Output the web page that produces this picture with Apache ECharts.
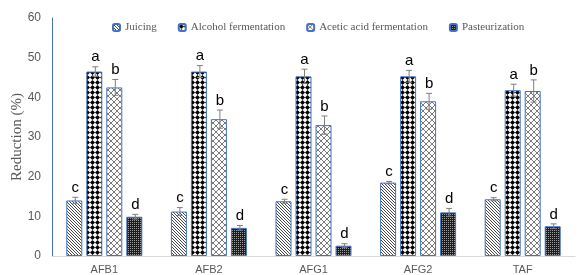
<!DOCTYPE html>
<html lang="en">
<head>
    <meta charset="UTF-8">
    <title>Reduction chart</title>
    <style>
        html, body { margin: 0; padding: 0; background: #fff; }
        #container { width: 583px; height: 275px; }
    </style>
</head>
<body>
    <div id="container"></div>
    <script src="https://cdn.jsdelivr.net/npm/echarts@6/dist/echarts.min.js"></script>
    <script>
        var categories = ['AFB1', 'AFB2', 'AFG1', 'AFG2', 'TAF'];
        var seriesNames = ['Juicing', 'Alcohol fermentation', 'Acetic acid fermentation', 'Pasteurization'];

        var juicing = [14.0, 11.2, 13.8, 18.5, 14.3];
        var alcohol = [46.5, 46.5, 45.3, 45.3, 41.8];
        var acetic = [42.5, 34.5, 33.0, 39.0, 41.6];
        var pasteur = [9.9, 7.1, 2.6, 11.0, 7.5];

        var juicingErr = [0.8, 1.0, 0.5, 0.3, 0.4];
        var alcoholErr = [1.2, 1.5, 1.8, 1.5, 1.5];
        var aceticErr = [2.0, 2.3, 2.3, 2.0, 2.8];
        var pasteurErr = [0.6, 0.6, 0.5, 1.0, 0.6];

        var letters = ['c', 'a', 'b', 'd'];

        var yTicks = [0, 10, 20, 30, 40, 50, 60];

        // little canvas tiles for the hatch fills
        function makeTile(w, h, draw) {
            var c = document.createElement('canvas');
            c.width = w;
            c.height = h;
            var ctx = c.getContext('2d');
            ctx.fillStyle = '#fff';
            ctx.fillRect(0, 0, w, h);
            draw(ctx);
            return { image: c, repeat: 'repeat' };
        }

        var stripeFill = makeTile(3, 3, function(ctx) {
            ctx.fillStyle = '#4a4a4a';
            for (var i = 0; i < 3; i++) ctx.fillRect(i, i, 1, 1);
        });
        var diamondFill = makeTile(5, 5, function(ctx) {
            ctx.fillStyle = '#000';
            ctx.beginPath();
            ctx.moveTo(2.5, 0);
            ctx.lineTo(5, 2.5);
            ctx.lineTo(2.5, 5);
            ctx.lineTo(0, 2.5);
            ctx.closePath();
            ctx.fill();
        });
        var crossFill = makeTile(6, 6, function(ctx) {
            ctx.strokeStyle = '#7a7a7a';
            ctx.lineWidth = 1;
            ctx.beginPath();
            ctx.moveTo(0, 0); ctx.lineTo(6, 6);
            ctx.moveTo(6, 0); ctx.lineTo(0, 6);
            ctx.stroke();
        });
        var dotFill = makeTile(2, 2, function(ctx) {
            ctx.fillStyle = '#1e1e1e';
            ctx.fillRect(0, 0, 2, 2);
            ctx.fillStyle = '#9a9a9a';
            ctx.fillRect(0, 0, 1, 1);
        });

        var fills = [stripeFill, diamondFill, crossFill, dotFill];
        var values = [juicing, alcohol, acetic, pasteur];
        var errors = [juicingErr, alcoholErr, aceticErr, pasteurErr];

        var barWidth = 16;
        var barGapPx = 4;

        var series = [];
        values.forEach(function(vals, s) {
            series.push({
                name: seriesNames[s],
                type: 'bar',
                data: vals,
                barWidth: barWidth,
                barGap: '25%',
                barCategoryGap: '27%',
                itemStyle: {
                    color: fills[s],
                    borderColor: '#4472c4',
                    borderWidth: 1
                }
            });
        });

        // error bars + letters
        var errData = [];
        values.forEach(function(vals, s) {
            vals.forEach(function(v, c) {
                errData.push([c, v, errors[s][c], s]);
            });
        });
        var groupWidth = 4 * barWidth + 3 * barGapPx;

        series.push({
            type: 'custom',
            name: 'err',
            data: errData,
            z: 10,
            silent: true,
            encode: { x: 0, y: 1 },
            renderItem: function(params, api) {
                var c = api.value(0), v = api.value(1), e = api.value(2), s = api.value(3);
                var off = -groupWidth / 2 + barWidth / 2 + s * (barWidth + barGapPx);
                var top = api.coord([c, v + e]);
                var bot = api.coord([c, v - e]);
                var x = top[0] + off + 1;
                var st = { stroke: '#7f7f7f', lineWidth: 1 };
                return {
                    type: 'group',
                    children: [
                        { type: 'line', shape: { x1: x, y1: top[1], x2: x, y2: bot[1] }, style: st },
                        { type: 'line', shape: { x1: x - 3, y1: top[1], x2: x + 3, y2: top[1] }, style: st },
                        { type: 'line', shape: { x1: x - 3, y1: bot[1], x2: x + 3, y2: bot[1] }, style: st },
                        {
                            type: 'text',
                            style: {
                                text: letters[s],
                                x: x,
                                y: top[1] - 2,
                                align: 'center',
                                verticalAlign: 'bottom',
                                font: '15px "Liberation Sans", Arial, sans-serif',
                                fill: '#000'
                            }
                        }
                    ]
                };
            }
        });

        var chart = echarts.init(document.getElementById('container'));
        chart.setOption({
            animation: false,
            grid: { left: 52, right: 8, top: 18, bottom: 19, outerBoundsMode: 'none', containLabel: false },
            legend: {
                data: seriesNames,
                top: 17,
                left: 107,
                itemWidth: 7,
                itemHeight: 7,
                itemGap: 21,
                textStyle: {
                    fontFamily: '"Liberation Serif", "Times New Roman", serif',
                    fontSize: 11,
                    color: '#595959'
                }
            },
            xAxis: {
                type: 'category',
                data: categories,
                axisTick: { show: false },
                axisLine: { lineStyle: { color: '#d9d9d9' } },
                axisLabel: {
                    color: '#595959',
                    fontSize: 11,
                    fontFamily: '"Liberation Sans", Arial, sans-serif',
                    margin: 8
                }
            },
            yAxis: {
                type: 'value',
                min: yTicks[0],
                max: yTicks[yTicks.length - 1],
                interval: 10,
                name: 'Reduction (%)',
                nameLocation: 'middle',
                nameGap: 27,
                nameMoveOverlap: false,
                nameTextStyle: {
                    fontFamily: '"Liberation Serif", "Times New Roman", serif',
                    fontSize: 15,
                    color: '#595959'
                },
                axisLine: { show: true, lineStyle: { color: '#4472c4' } },
                axisTick: { show: false },
                splitLine: { show: false },
                axisLabel: {
                    color: '#595959',
                    fontSize: 12,
                    fontFamily: '"Liberation Sans", Arial, sans-serif',
                    margin: 11
                }
            },
            series: series
        });
    </script>
</body>
</html>
